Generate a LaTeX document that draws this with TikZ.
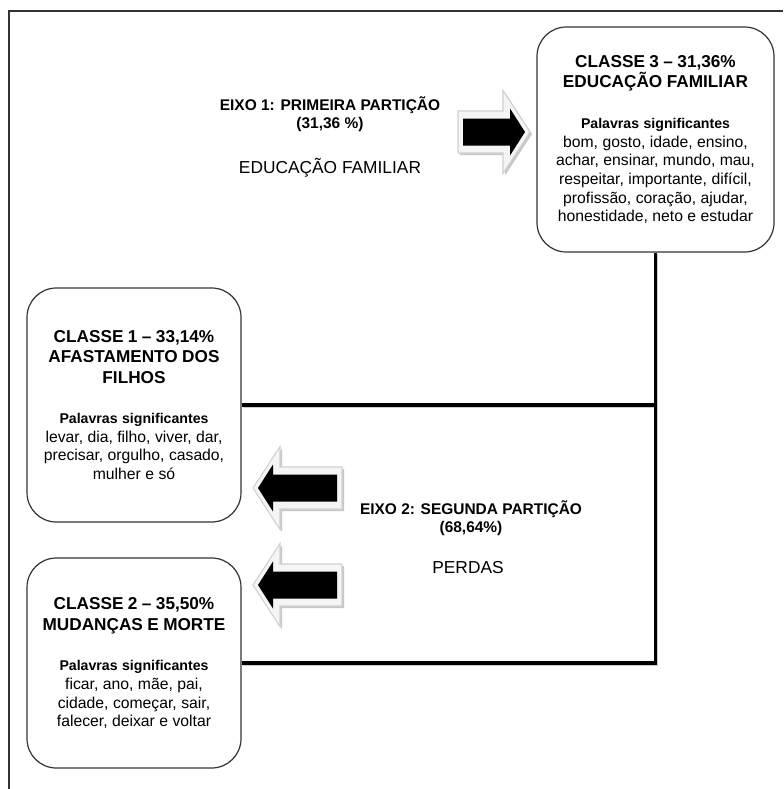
\documentclass[tikz,border=0pt]{standalone}
\usepackage{fontspec}
\setmainfont{Liberation Sans}

\newcommand{\titlefont}{\fontsize{12.9}{15.5}\selectfont\bfseries}
\newcommand{\keyfont}{\fontsize{10.6}{12.5}\selectfont\bfseries}
\newcommand{\wordfont}{\fontsize{11.8}{14}\selectfont}
\newcommand{\eixofont}{\fontsize{11.6}{13.5}\selectfont\bfseries}
\newcommand{\temafont}{\fontsize{13}{15}\selectfont}

\tikzset{
  classbox/.style={draw=black!80, line width=0.9pt, rounded corners=22pt,
    align=center, inner sep=0pt,
    execute at begin node=\setlength{\parindent}{0pt}},
  link/.style={line width=2.4pt,
    preaction={draw=black!20, line width=2.4pt,
      transform canvas={shift={(0.9pt,-0.9pt)}}}},
  outerframe/.style={draw=black!80, line width=1.1pt},
  bigarrow/.pic={
    \fill[black!22, transform canvas={shift={(1.5pt,-1.5pt)}}]
      (0,0) -- (27,-41.5) -- (27,-21) -- (#1,-21) -- (#1,21) -- (27,21) -- (27,41.5) -- cycle;
    \draw[black!18, fill=black!4, line width=0.8pt]
      (0,0) -- (27,-41.5) -- (27,-21) -- (#1,-21) -- (#1,21) -- (27,21) -- (27,41.5) -- cycle;
    \fill[black]
      (5,0) -- (20,-23.5) -- (20,-13.5) -- (#1-5,-13.5) -- (#1-5,13.5) -- (20,13.5) -- (20,23.5) -- cycle;
  }
}

\begin{document}
\begin{tikzpicture}[x=0.75pt, y=-0.75pt]

  \fill[white] (0,0) rectangle (783,789);
  \useasboundingbox (0,0) rectangle (783,789);
  \draw[outerframe] (9,789) -- (9,11) -- (783,11);

  % classes
  \node[classbox, text width=165pt, minimum width=177.75pt, minimum height=168.75pt] (c3) at (655.5,139.5)
    {{\titlefont CLASSE 3 -- 31,36\%\\EDUCAÇÃO FAMILIAR\par}\vspace{18pt}%
     {\keyfont Palavras significantes\par}%
     {\wordfont bom, gosto, idade, ensino,\\achar, ensinar, mundo, mau,\\respeitar, importante, difícil,\\profissão, coração, ajudar,\\honestidade, neto e estudar\par}};

  \node[classbox, text width=150pt, minimum width=160.5pt, minimum height=175.5pt] (c1) at (134,405)
    {{\titlefont CLASSE 1 -- 33,14\%\\AFASTAMENTO DOS\\FILHOS\par}\vspace{17.5pt}%
     {\keyfont Palavras significantes\par}%
     {\wordfont levar, dia, filho, viver, dar,\\precisar, orgulho, casado,\\mulher e só\par}};

  \node[classbox, text width=150pt, minimum width=160.5pt, minimum height=157.5pt] (c2) at (134,663)
    {{\titlefont CLASSE 2 -- 35,50\%\\MUDANÇAS E MORTE\par}\vspace{18pt}%
     {\keyfont Palavras significantes\par}%
     {\wordfont ficar, ano, mãe, pai,\\cidade, começar, sair,\\falecer, deixar e voltar\par}};

  % partitions
  \node[align=center, font=\eixofont] (eixo1) at (330,114) {EIXO 1: PRIMEIRA PARTIÇÃO\\(31,36 \%)};
  \node[font=\temafont] (tema1) at (330,168) {EDUCAÇÃO FAMILIAR};

  \node[align=center, font=\eixofont] (eixo2) at (471,518) {EIXO 2: SEGUNDA PARTIÇÃO\\(68,64\%)};
  \node[font=\temafont] (tema2) at (468,568) {PERDAS};

  \pic[xscale=-1] at (530,132) {bigarrow=72};
  \pic at (253,488) {bigarrow=89};
  \pic at (253,585) {bigarrow=89};

  % links
  \draw[link] (c3.south) -- (c3.south |- c2.east) -- (c2.east)
              (c1.east) -- (c1.east -| c3.south);

\end{tikzpicture}
\end{document}
